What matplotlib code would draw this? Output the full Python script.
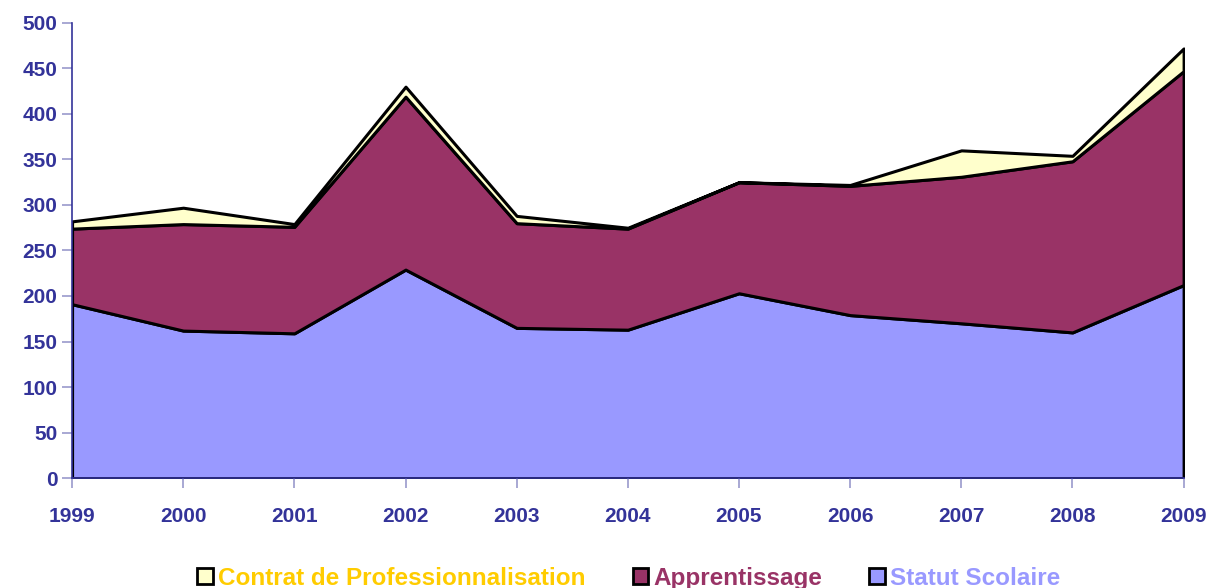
import numpy as np
import matplotlib.pyplot as plt
from matplotlib.patches import Patch

years = [1999, 2000, 2001, 2002, 2003, 2004, 2005, 2006, 2007, 2008, 2009]
statut_scolaire = [191, 162, 159, 229, 165, 163, 203, 179, 170, 160, 212]
apprentissage = [83, 117, 117, 190, 115, 111, 122, 142, 161, 188, 235]
contrat_pro = [8, 18, 3, 11, 8, 1, 0, 1, 29, 6, 25]

labels = ['Statut Scolaire', 'Apprentissage', 'Contrat de Professionnalisation']
fills = ['#9999FF', '#993366', '#FFFFCC']
text_colors = ['#9999FF', '#993366', '#FFCC00']
navy = '#333399'

plt.rcParams['font.family'] = ['Liberation Sans', 'DejaVu Sans']

fig = plt.figure(figsize=(12.09, 5.88), dpi=100)
ax = fig.add_axes([0.0596, 0.187, 0.9194, 0.774])

ax.stackplot(years, statut_scolaire, apprentissage, contrat_pro,
             colors=fills, edgecolor='black', linewidth=2.2)

ax.set_xlim(years[0], years[-1])
ax.set_ylim(0, 500)
ax.set_xticks(years)
ax.set_yticks(np.arange(0, 501, 50))

for s in ['top', 'right']:
    ax.spines[s].set_visible(False)
for s in ['left', 'bottom']:
    ax.spines[s].set_color(navy)
    ax.spines[s].set_linewidth(1.2)
ax.tick_params(axis='both', colors='#9999CC', length=7, width=1.2,
               labelcolor=navy, labelsize=15)
ax.tick_params(axis='x', pad=14)
for lab in ax.get_xticklabels() + ax.get_yticklabels():
    lab.set_fontweight('bold')

handles = [Patch(facecolor=fills[i], edgecolor='black', linewidth=2)
           for i in [2, 1, 0]]
leg = fig.legend(handles, [labels[i] for i in [2, 1, 0]], loc='lower center',
                 bbox_to_anchor=(0.52, -0.04), ncol=3, frameon=False,
                 handlelength=0.65, handleheight=0.65, handletextpad=0.2,
                 columnspacing=1.95, prop={'size': 17.5, 'weight': 'bold'})
for t, i in zip(leg.get_texts(), [2, 1, 0]):
    t.set_color(text_colors[i])

fig.savefig('out.png', dpi=100)
